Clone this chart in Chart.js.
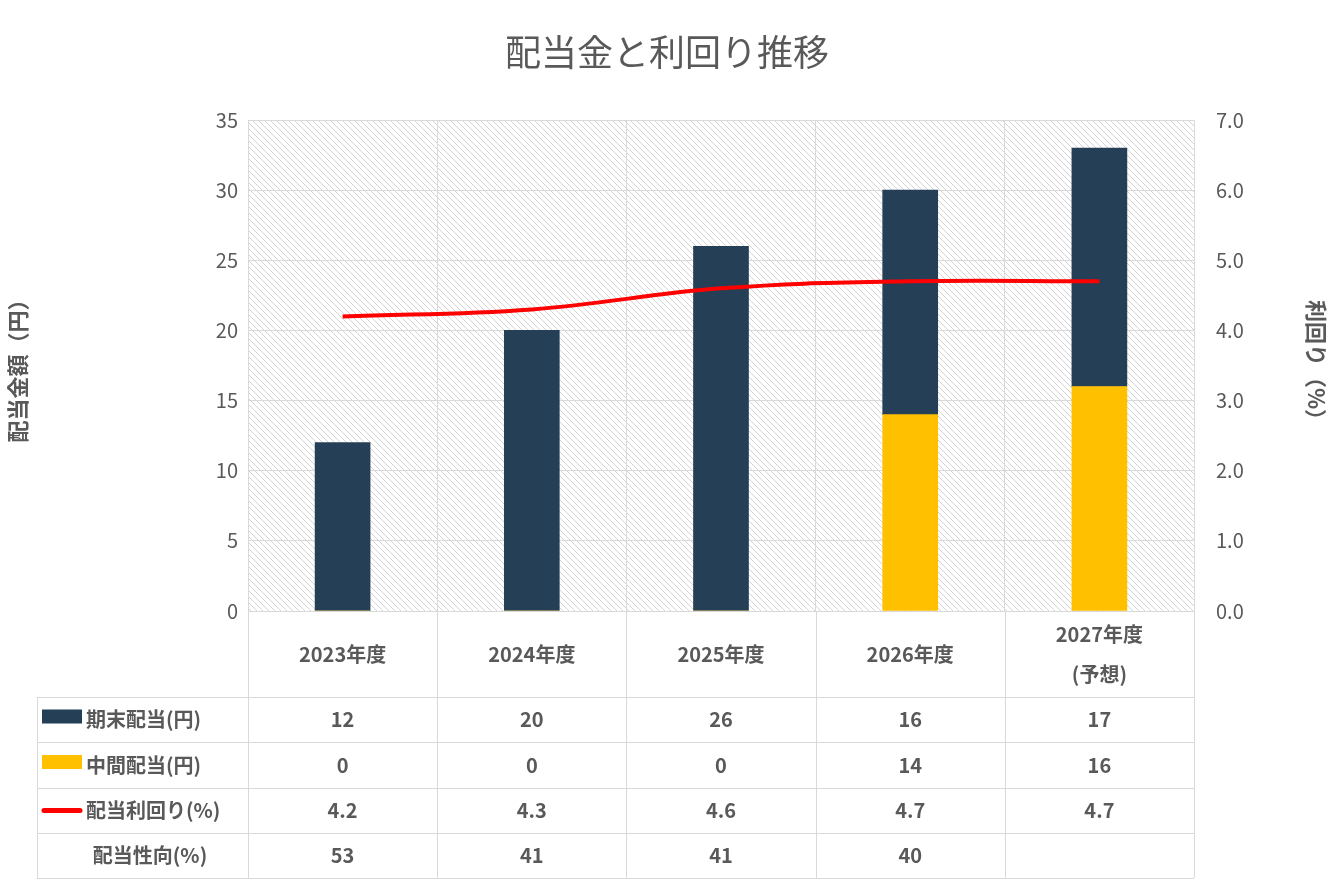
<!DOCTYPE html>
<html>
<head>
<meta charset="utf-8">
<script src="https://cdn.jsdelivr.net/npm/chart.js@4"></script>
<style>
  body { margin: 0; background: #fff; }
  #wrap { width: 1334px; height: 889px; }
</style>
</head>
<body>
<div id="wrap"><canvas id="c"></canvas></div>
<script>
const categories = ['2023年度', '2024年度', '2025年度', '2026年度', '2027年度\n(予想)'];
const kimatsu = [12, 20, 26, 16, 17];
const chukan = [0, 0, 0, 14, 16];
const yieldPct = [4.2, 4.3, 4.6, 4.7, 4.7];
const payout = ['53', '41', '41', '40', ''];

const FONT = '"Noto Sans CJK JP", "Noto Sans", sans-serif';
const DARK = '#243F56', GOLD = '#FFC000', RED = '#FF0000';
const TXT = '#595959', GRID = '#d9d9d9';

// hatched plot background
function makePattern() {
    const p = document.createElement('canvas');
    p.width = 6; p.height = 6;
    const g = p.getContext('2d');
    g.fillStyle = '#fff';
    g.fillRect(0, 0, 6, 6);
    g.strokeStyle = '#d4d4d4';
    g.lineWidth = 1;
    g.beginPath();
    g.moveTo(0, 0); g.lineTo(6, 6);
    g.moveTo(-3, 3); g.lineTo(3, 9);
    g.moveTo(3, -3); g.lineTo(9, 3);
    g.stroke();
    return g.createPattern(p, 'repeat');
}

const extras = {
    id: 'extras',
    beforeDraw(chart) {
        const ctx = chart.ctx, a = chart.chartArea;
        ctx.save();
        ctx.fillStyle = makePattern();
        ctx.fillRect(a.left, a.top, a.right - a.left, a.bottom - a.top);
        ctx.restore();
    },
    afterDraw(chart) {
        const ctx = chart.ctx, a = chart.chartArea, x = chart.scales.x;
        const colW = (a.right - a.left) / categories.length;
        const rows = [a.bottom, 697, 742, 788, 833, 878];
        const tLeft = 37;
        ctx.save();
        // title
        ctx.fillStyle = TXT;
        ctx.font = '36px ' + FONT;
        ctx.textAlign = 'center';
        ctx.textBaseline = 'middle';
        ctx.fillText('配当金と利回り推移', 667, 52);

        // table lines
        ctx.strokeStyle = GRID;
        ctx.lineWidth = 1;
        ctx.beginPath();
        for (let i = 0; i <= categories.length; i++) {
            const xx = Math.round(a.left + i * colW) + 0.5;
            ctx.moveTo(xx, rows[0]); ctx.lineTo(xx, rows[5]);
        }
        ctx.moveTo(tLeft + 0.5, rows[1]); ctx.lineTo(tLeft + 0.5, rows[5]);
        for (let r = 1; r < rows.length; r++) {
            ctx.moveTo(tLeft, rows[r] + 0.5); ctx.lineTo(a.right, rows[r] + 0.5);
        }
        ctx.stroke();

        // category labels
        ctx.fillStyle = TXT;
        ctx.font = 'bold 20px ' + FONT;
        categories.forEach((c, i) => {
            const cx = x.getPixelForValue(i);
            const lines = c.split('\n');
            const cy = (rows[0] + rows[1]) / 2;
            lines.forEach((l, j) => {
                ctx.fillText(l, cx, cy + (j - (lines.length - 1) / 2) * 40);
            });
        });

        // data rows
        const data = [kimatsu, chukan, yieldPct.map(v => v.toFixed(1)), payout];
        data.forEach((arr, r) => {
            const cy = (rows[r + 1] + rows[r + 2]) / 2;
            arr.forEach((v, i) => ctx.fillText(String(v), x.getPixelForValue(i), cy));
        });

        // row headers with legend keys
        const labels = ['期末配当(円)', '中間配当(円)', '配当利回り(%)', '配当性向(%)'];
        labels.forEach((l, r) => {
            const cy = (rows[r + 1] + rows[r + 2]) / 2;
            if (r === 0 || r === 1) {
                ctx.fillStyle = r === 0 ? DARK : GOLD;
                ctx.fillRect(42, cy - 10, 40, 14);
            } else if (r === 2) {
                ctx.strokeStyle = RED; ctx.lineWidth = 5; ctx.lineCap = 'round';
                ctx.beginPath(); ctx.moveTo(44, cy); ctx.lineTo(80, cy); ctx.stroke();
            }
            ctx.fillStyle = TXT;
            ctx.textAlign = r === 3 ? 'center' : 'left';
            ctx.fillText(l, r === 3 ? 150 : 86, cy);
        });
        ctx.restore();
    }
};

new Chart(document.getElementById('c'), {
    data: {
        labels: categories,
        datasets: [
            { type: 'line', label: '配当利回り(%)', data: yieldPct, yAxisID: 'y2',
              borderColor: RED, borderWidth: 4, pointRadius: 0, tension: 0.4, order: 0 },
            { type: 'bar', label: '中間配当(円)', data: chukan, backgroundColor: GOLD,
              yAxisID: 'y', barThickness: 55, order: 1 },
            { type: 'bar', label: '期末配当(円)', data: kimatsu, backgroundColor: DARK,
              yAxisID: 'y', barThickness: 55, order: 1 }
        ]
    },
    options: {
        responsive: true,
        maintainAspectRatio: false,
        animation: false,
        layout: { padding: { top: 120, bottom: 278, left: 0, right: 0 } },
        plugins: { legend: { display: false }, title: { display: false }, tooltip: { enabled: false } },
        scales: {
            x: {
                stacked: true,
                grid: { color: GRID, offset: true, drawTicks: false },
                border: { color: GRID },
                ticks: { display: false },
                afterFit(s) { s.height = 0; }
            },
            y: {
                stacked: true, position: 'left', min: 0, max: 35,
                ticks: { stepSize: 5, color: TXT, font: { size: 20, family: FONT }, padding: 10 },
                grid: { color: GRID, drawTicks: false },
                border: { display: false },
                title: { display: true, text: '配当金額（円）', color: TXT,
                         font: { size: 22, weight: 'bold', family: FONT } },
                afterFit(s) { s.width = 248; }
            },
            y2: {
                position: 'right', min: 0, max: 7,
                ticks: { stepSize: 1, color: TXT, font: { size: 20, family: FONT }, padding: 22,
                         callback: v => v.toFixed(1) },
                grid: { display: false, drawTicks: false },
                border: { display: false },
                title: { display: true, text: '利回り（%）', color: TXT,
                         font: { size: 22, weight: 'bold', family: FONT } },
                afterFit(s) { s.width = 140; }
            }
        }
    },
    plugins: [extras]
});
</script>
</body>
</html>
